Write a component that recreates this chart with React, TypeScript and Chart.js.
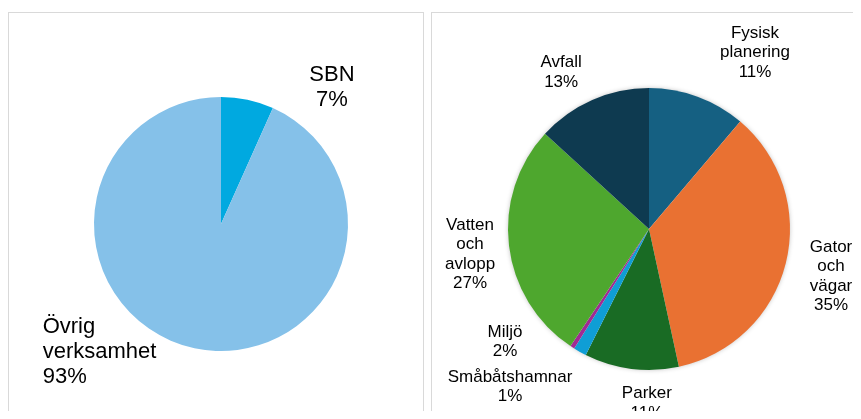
import React, { useEffect, useRef } from "react";
import { Chart, registerables } from "chart.js";

Chart.register(...registerables);

// Left pie
const leftCategories = ["SBN", "Övrig verksamhet"];
const leftValues = [6.7, 93.3];
const leftColors = ["#00A9E0", "#85C1E9"];

// Right pie
const rightCategories = [
  "Fysisk planering",
  "Gator och vägar",
  "Parker",
  "Miljö",
  "Småbåtshamnar",
  "Vatten och avlopp",
  "Avfall",
];
const rightValues = [11.2, 35.4, 10.8, 1.5, 0.5, 27.4, 13.2];
const rightColors = ["#156082", "#E97132", "#196B24", "#0F9ED5", "#A02B93", "#4EA72E", "#0E3A50"];

// label placement (angle from top in degrees, distance in pie radii)
const leftLabelAngles = [39.0, 223.6];
const leftLabelDists = [1.388, 1.387];
const leftLabelAlign = ["center", "left"];
const rightLabelAngles = [31.0, 104.6, 180.7, 231.9, 221.4, 261.9, 330.7];
const rightLabelDists = [1.46, 1.334, 1.235, 1.298, 1.49, 1.282, 1.273];

const FONT = '"Liberation Sans", Arial, Helvetica, sans-serif';

function makeLabelPlugin(
  cats: string[],
  vals: number[],
  angles: number[],
  dists: number[],
  aligns: string[] | null,
  size: number,
  lineH: number
) {
  return {
    id: "pieLabels",
    afterDraw(chart: any) {
      const meta = chart.getDatasetMeta(0);
      const arc = meta.data[0];
      if (!arc) return;
      const { x, y, outerRadius } = arc.getProps(["x", "y", "outerRadius"], true);
      const total = vals.reduce((a, b) => a + b, 0);
      const ctx = chart.ctx;
      ctx.save();
      ctx.font = `${size}px ${FONT}`;
      ctx.fillStyle = "#000000";
      ctx.textBaseline = "middle";
      cats.forEach((cat, i) => {
        const pct = Math.round((vals[i] * 100) / total) + "%";
        const lines = [...cat.split(" "), pct];
        const a = ((angles[i] - 90) * Math.PI) / 180;
        const d = dists[i] * outerRadius;
        const cx = x + d * Math.cos(a);
        const cy = y + d * Math.sin(a);
        const align = aligns ? aligns[i] : "center";
        const maxW = Math.max(...lines.map((l) => ctx.measureText(l).width));
        const top = cy - ((lines.length - 1) * lineH) / 2;
        lines.forEach((l, j) => {
          if (align === "left") {
            ctx.textAlign = "left";
            ctx.fillText(l, cx - maxW / 2, top + j * lineH);
          } else {
            ctx.textAlign = "center";
            ctx.fillText(l, cx, top + j * lineH);
          }
        });
      });
      ctx.restore();
    },
  };
}

const shadowPlugin = {
  id: "pieShadow",
  beforeDatasetsDraw(chart: any) {
    const meta = chart.getDatasetMeta(0);
    const arc = meta.data[0];
    if (!arc) return;
    const { x, y, outerRadius } = arc.getProps(["x", "y", "outerRadius"], true);
    const ctx = chart.ctx;
    ctx.save();
    ctx.shadowColor = "rgba(0,0,0,0.28)";
    ctx.shadowBlur = 5;
    ctx.fillStyle = "#ffffff";
    ctx.beginPath();
    ctx.arc(x, y, outerRadius - 0.5, 0, Math.PI * 2);
    ctx.fill();
    ctx.restore();
  },
};

function PieCanvas(props: {
  cats: string[];
  vals: number[];
  colors: string[];
  padding: any;
  plugins: any[];
  width: number;
  height: number;
  style: any;
}) {
  const ref = useRef<HTMLCanvasElement | null>(null);
  useEffect(() => {
    if (!ref.current) return;
    const chart = new Chart(ref.current, {
      type: "pie",
      data: {
        labels: props.cats,
        datasets: [
          {
            data: props.vals,
            backgroundColor: props.colors,
            borderWidth: 0,
          },
        ],
      },
      options: {
        responsive: false,
        animation: false,
        layout: { padding: props.padding },
        plugins: {
          legend: { display: false },
          tooltip: { enabled: false },
        },
      },
      plugins: props.plugins,
    });
    return () => chart.destroy();
  }, []);
  return <canvas ref={ref} width={props.width} height={props.height} style={props.style} />;
}

export default function App() {
  return (
    <div
      style={{
        position: "relative",
        width: 861,
        height: 419,
        margin: -8,
        overflow: "hidden",
        background: "#ffffff",
      }}
    >
      <div
        style={{
          position: "absolute",
          left: 8,
          top: 12,
          width: 416,
          height: 430,
          border: "1px solid #D9D9D9",
          boxSizing: "border-box",
        }}
      />
      <div
        style={{
          position: "absolute",
          left: 431,
          top: 12,
          width: 450,
          height: 430,
          border: "1px solid #D9D9D9",
          boxSizing: "border-box",
        }}
      />
      <PieCanvas
        cats={leftCategories}
        vals={leftValues}
        colors={leftColors}
        padding={{ left: 85, right: 75, top: 84, bottom: 68 }}
        plugins={[makeLabelPlugin(leftCategories, leftValues, leftLabelAngles, leftLabelDists, leftLabelAlign, 22, 25)]}
        width={414}
        height={406}
        style={{ position: "absolute", left: 9, top: 13 }}
      />
      <PieCanvas
        cats={rightCategories}
        vals={rightValues}
        colors={rightColors}
        padding={{ left: 76, right: 71, top: 75, bottom: 49 }}
        plugins={[shadowPlugin, makeLabelPlugin(rightCategories, rightValues, rightLabelAngles, rightLabelDists, null, 17, 19.5)]}
        width={429}
        height={406}
        style={{ position: "absolute", left: 432, top: 13 }}
      />
    </div>
  );
}
